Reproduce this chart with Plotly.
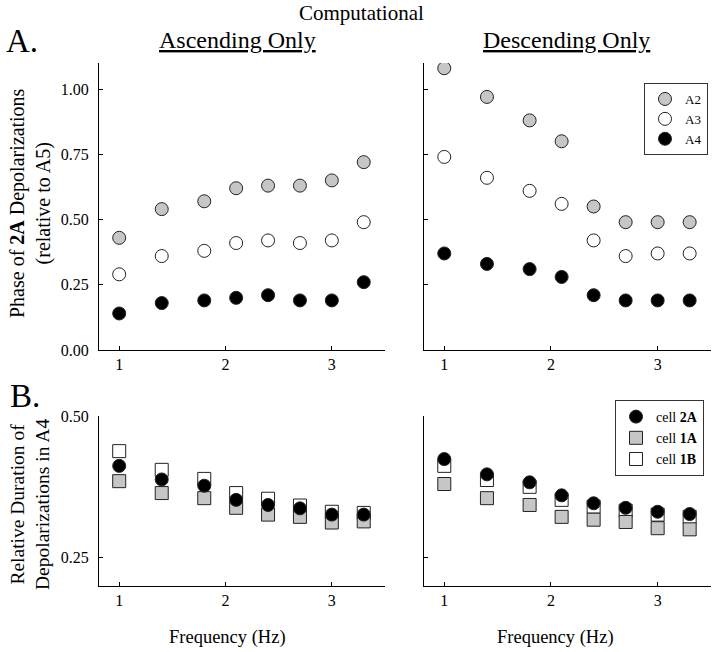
import plotly.graph_objects as go

# frequency (Hz) of each stimulus
freq = [1.0, 1.4, 1.8, 2.1, 2.4, 2.7, 3.0, 3.3]

# A. phase of 2A depolarizations (relative to A5)
asc_a2 = [0.43, 0.54, 0.57, 0.62, 0.63, 0.63, 0.65, 0.72]
asc_a3 = [0.29, 0.36, 0.38, 0.41, 0.42, 0.41, 0.42, 0.49]
asc_a4 = [0.14, 0.18, 0.19, 0.20, 0.21, 0.19, 0.19, 0.26]
desc_a2 = [1.08, 0.97, 0.88, 0.80, 0.55, 0.49, 0.49, 0.49]
desc_a3 = [0.74, 0.66, 0.61, 0.56, 0.42, 0.36, 0.37, 0.37]
desc_a4 = [0.37, 0.33, 0.31, 0.28, 0.21, 0.19, 0.19, 0.19]

# B. relative duration of depolarizations in A4
asc_2a = [0.412, 0.388, 0.377, 0.352, 0.343, 0.337, 0.326, 0.326]
asc_1a = [0.385, 0.364, 0.355, 0.338, 0.326, 0.322, 0.312, 0.314]
asc_1b = [0.438, 0.405, 0.389, 0.364, 0.354, 0.342, 0.331, 0.329]
desc_2a = [0.424, 0.397, 0.383, 0.360, 0.346, 0.338, 0.331, 0.327]
desc_1a = [0.380, 0.355, 0.343, 0.322, 0.317, 0.313, 0.302, 0.300]
desc_1b = [0.412, 0.387, 0.375, 0.352, 0.340, 0.333, 0.326, 0.322]

FONT = "Liberation Serif"
GRAY = "#c6c6c6"
EDGE = "#222222"
W, H = 720, 652

fig = go.Figure()


def add(x, y, fill, symbol, name, xa, ya, legend, show):
    fig.add_trace(go.Scatter(
        x=x, y=y, mode="markers", name=name,
        marker=dict(symbol=symbol, size=13, color=fill,
                    line=dict(color=EDGE, width=1)),
        xaxis=xa, yaxis=ya, legend=legend, showlegend=show))


# top panels
for xs, ya, a2, a3, a4, show in [("x", "y", asc_a2, asc_a3, asc_a4, False),
                                 ("x2", "y2", desc_a2, desc_a3, desc_a4, True)]:
    add(freq, a2, GRAY, "circle", "A2", xs, ya, "legend", show)
    add(freq, a3, "white", "circle", "A3", xs, ya, "legend", show)
    add(freq, a4, "black", "circle", "A4", xs, ya, "legend", show)

# bottom panels (drawn 1B, 1A, 2A so the circles sit on top)
for xs, ya, c2a, c1a, c1b, show in [("x3", "y3", asc_2a, asc_1a, asc_1b, False),
                                    ("x4", "y4", desc_2a, desc_1a, desc_1b, True)]:
    add(freq, c1b, "white", "square", "cell <b>1B</b>", xs, ya, "legend2", show)
    add(freq, c1a, GRAY, "square", "cell <b>1A</b>", xs, ya, "legend2", show)
    add(freq, c2a, "black", "circle", "cell <b>2A</b>", xs, ya, "legend2", show)


def px_x(a, b):
    return [a / W, b / W]


def px_y(top, bottom):
    return [1 - bottom / H, 1 - top / H]


axis_common = dict(showline=True, linecolor="black", linewidth=1.2,
                   ticks="inside", ticklen=4, tickcolor="black",
                   showgrid=False, zeroline=False, mirror=False,
                   automargin=False,
                   tickfont=dict(family=FONT, size=16, color="black"))

xa = dict(axis_common, range=[0.81, 3.5], tickvals=[1, 2, 3])
top_y = dict(axis_common, range=[0, 1.1], tickvals=[0, 0.25, 0.5, 0.75, 1.0],
             ticktext=["0.00", "0.25", "0.50", "0.75", "1.00"],
             ticklabelstandoff=6)
bot_y = dict(axis_common, range=[0.2, 0.5], tickvals=[0.25, 0.5],
             ticktext=["0.25", "0.50"], ticklabelstandoff=6)

fig.update_layout(
    width=W, height=H,
    margin=dict(l=0, r=0, t=0, b=0),
    paper_bgcolor="white", plot_bgcolor="white",
    font=dict(family=FONT, color="black"),
    xaxis=dict(xa, domain=px_x(99, 385), anchor="y"),
    xaxis2=dict(xa, domain=px_x(424, 711), anchor="y2"),
    xaxis3=dict(xa, domain=px_x(99, 385), anchor="y3"),
    xaxis4=dict(xa, domain=px_x(424, 711), anchor="y4"),
    yaxis=dict(top_y, domain=px_y(63, 350), anchor="x"),
    yaxis2=dict(top_y, domain=px_y(63, 350), anchor="x2", showticklabels=False),
    yaxis3=dict(bot_y, domain=px_y(416, 586), anchor="x3"),
    yaxis4=dict(bot_y, domain=px_y(416, 586), anchor="x4", showticklabels=False),
    legend=dict(x=644 / W, y=1 - 83 / H, xanchor="left", yanchor="top",
                bordercolor="#333", borderwidth=1, bgcolor="white",
                font=dict(family=FONT, size=13), tracegroupgap=0,
                itemwidth=30),
    legend2=dict(x=615 / W, y=1 - 400 / H, xanchor="left", yanchor="top",
                 bordercolor="#333", borderwidth=1, bgcolor="white",
                 font=dict(family=FONT, size=14), traceorder="reversed",
                 itemwidth=30),
)

ann = [
    ("Computational", 361, 13, 21, 0),
    ("A.", 22, 41, 33, 0),
    ("B.", 25, 396, 33, 0),
    ("<u>Ascending Only</u>", 237, 40, 24, 0),
    ("<u>Descending Only</u>", 566, 40, 24, 0),
    ("Phase of <b>2A</b> Depolarizations<br>(relative to A5)", 30, 203, 20, -90),
    ("Relative Duration of<br>Depolarizations in A4", 30, 505, 19.5, -90),
    ("Frequency (Hz)", 227, 637, 18.5, 0),
    ("Frequency (Hz)", 555, 637, 18.5, 0),
]
for text, x, y, size, ang in ann:
    fig.add_annotation(text=text, x=x / W, y=1 - y / H, xref="paper", yref="paper",
                       showarrow=False, textangle=ang, xanchor="center", yanchor="middle",
                       font=dict(family=FONT, size=size, color="black"))

# the page's default body margin would push the figure 8px down and right
fig.write_html("out.html", config={"displayModeBar": False},
               post_script="document.body.style.margin='0';")
